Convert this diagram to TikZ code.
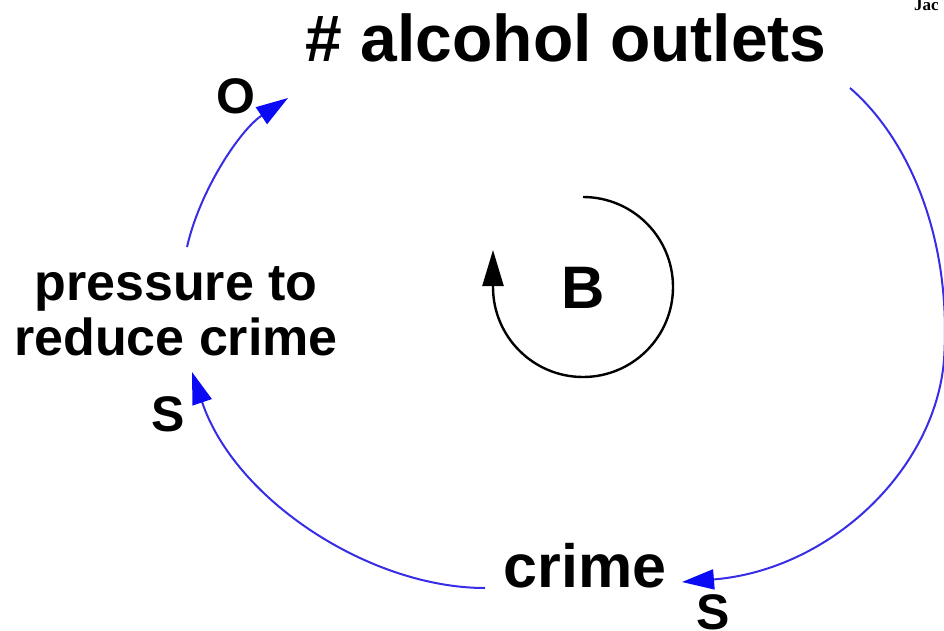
\documentclass[tikz,border=0pt]{standalone}
\usepackage{fontspec}
\setmainfont{Liberation Sans}
\newfontfamily\jacfont{Liberation Serif}
\usetikzlibrary{arrows.meta}
\definecolor{linkblue}{RGB}{55,45,230}
\definecolor{tipblue}{RGB}{10,10,245}
\tikzset{
  varlabel/.style={inner sep=0pt, font=\bfseries\fontsize{#1}{#1}\selectfont},
  pol/.style={inner sep=0pt, anchor=base, font=\bfseries\fontsize{50}{50}\selectfont},
  link/.style={draw=linkblue, line width=2pt,
    -{Triangle[length=32pt,width=20pt,tipblue]}},
  looparrow/.style={draw=black, line width=2.4pt,
    -{Triangle[length=36pt,width=21pt,black]}}
}
\begin{document}
\begin{tikzpicture}[x=1pt,y=-1pt]
\useasboundingbox (0,0) rectangle (944,631);
\clip (0,0) rectangle (944,631);
% variables
\node[varlabel=66, anchor=base] (outlets) at (566,62) {\# alcohol outlets};
\node[varlabel=61, anchor=base] (crime) at (585,587) {crime};
\node[inner sep=0pt, align=center, font=\bfseries\fontsize{52}{55}\selectfont] (pressure) at (176,311) {pressure to\\reduce crime};
% loop marker
\node[varlabel=60, anchor=base] (loopB) at (583,308) {B};
% corner text
\node[inner sep=0pt, anchor=base west, font=\jacfont\bfseries\fontsize{17}{17}\selectfont] (jac) at (914,11) {Jac};
% polarity labels
\node[pol] (polO) at (236,114) {O};
\node[pol] (polS1) at (168,431) {S};
\node[pol] (polS2) at (713,629) {S};
% connector end points
\coordinate (outletsOut) at (850,88);
\coordinate (crimeIn) at (682,582);
\coordinate (crimeOut) at (485,588);
\coordinate (pressureIn) at (192,372);
\coordinate (pressureOut) at (187,247);
\coordinate (outletsIn) at (288,98);
% links
\draw[link] (outletsOut) .. controls (910,140) and (952,240) .. (944,360)
  .. controls (935,470) and (830,570) .. (crimeIn);
\draw[link] (crimeOut) .. controls (370,588) and (235,500) .. (pressureIn);
\draw[link] (pressureOut) .. controls (200,190) and (240,130) .. (outletsIn);
% loop arrow
\draw[looparrow] (583,197) arc[start angle=-90, end angle=180, radius=90] -- ++(0,-37);
\end{tikzpicture}
\end{document}
